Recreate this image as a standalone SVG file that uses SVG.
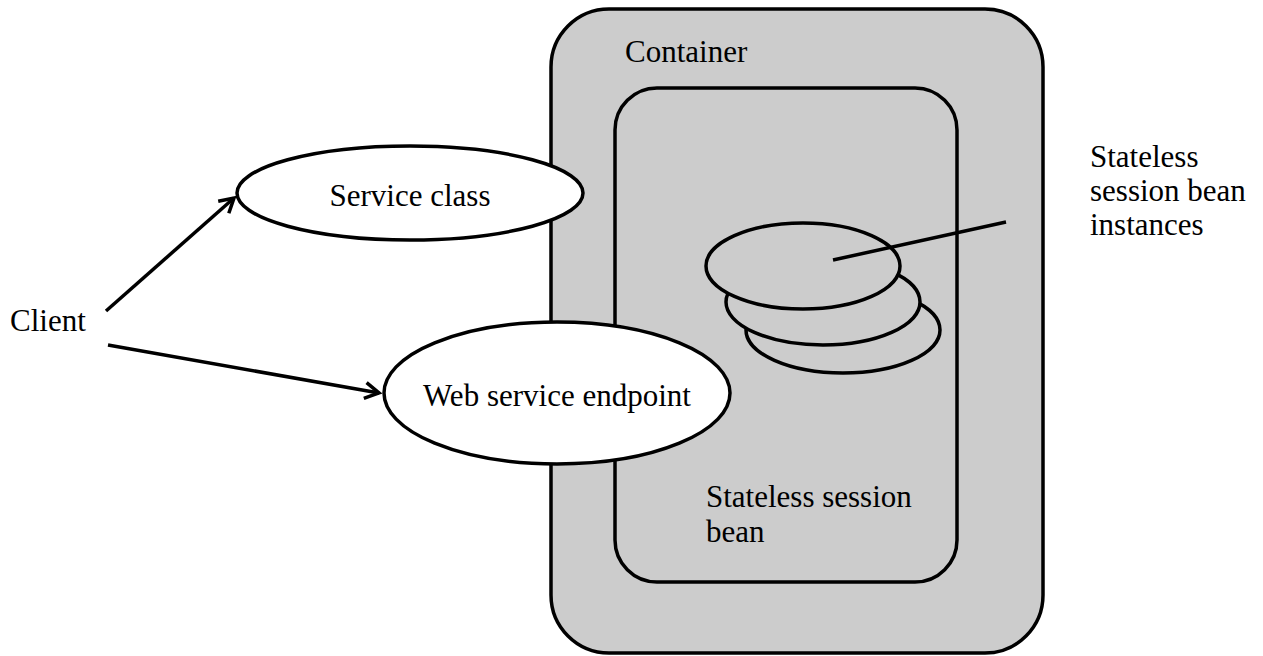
<svg xmlns="http://www.w3.org/2000/svg" width="1263" height="656" viewBox="0 0 1263 656">
<defs>
<style>
.shape{stroke:#000;stroke-width:3.5}
.box{fill:#cccccc}
.ell{fill:#ffffff}
.bean{fill:#cccccc}
.conn{stroke:#000;stroke-width:3.5;fill:none}
text{font-family:"Liberation Serif","Times New Roman",serif;font-size:31px;fill:#000}
</style>
<marker id="arrow" viewBox="0 0 20 20" refX="17" refY="10" markerWidth="20" markerHeight="20" markerUnits="userSpaceOnUse" orient="auto">
<path d="M3,2 L17,10 L3,18" fill="none" stroke="#000" stroke-width="3.5"/>
</marker>
</defs>
<rect width="1263" height="656" fill="#ffffff"/>
<g id="container">
<rect class="shape box" x="551" y="9" width="492" height="644" rx="58" ry="58"/>
<text x="625" y="62">Container</text>
</g>
<g id="stateless-session-bean">
<rect class="shape box" x="615" y="88" width="342" height="494" rx="42" ry="42"/>
<text x="706" y="507">Stateless session</text>
<text x="706" y="542">bean</text>
</g>
<g id="bean-instances">
<ellipse class="shape bean" cx="843" cy="330" rx="97" ry="43"/>
<ellipse class="shape bean" cx="823" cy="302" rx="97" ry="43"/>
<ellipse class="shape bean" cx="803" cy="266" rx="97" ry="43"/>
</g>
<g id="service-class">
<ellipse class="shape ell" cx="410" cy="193" rx="173" ry="47"/>
<text x="410" y="206" text-anchor="middle">Service class</text>
</g>
<g id="web-service-endpoint">
<ellipse class="shape ell" cx="557" cy="393" rx="173" ry="71"/>
<text x="557" y="406" text-anchor="middle">Web service endpoint</text>
</g>
<g id="client">
<text x="10" y="331">Client</text>
</g>
<g id="instances-label">
<text x="1090" y="167">Stateless</text>
<text x="1090" y="201">session bean</text>
<text x="1090" y="235">instances</text>
</g>
<g id="connectors">
<line class="conn" x1="106" y1="311" x2="234" y2="198" marker-end="url(#arrow)"/>
<line class="conn" x1="108" y1="345" x2="379" y2="393" marker-end="url(#arrow)"/>
<line class="conn" x1="833" y1="260" x2="1006" y2="222"/>
</g>
</svg>
